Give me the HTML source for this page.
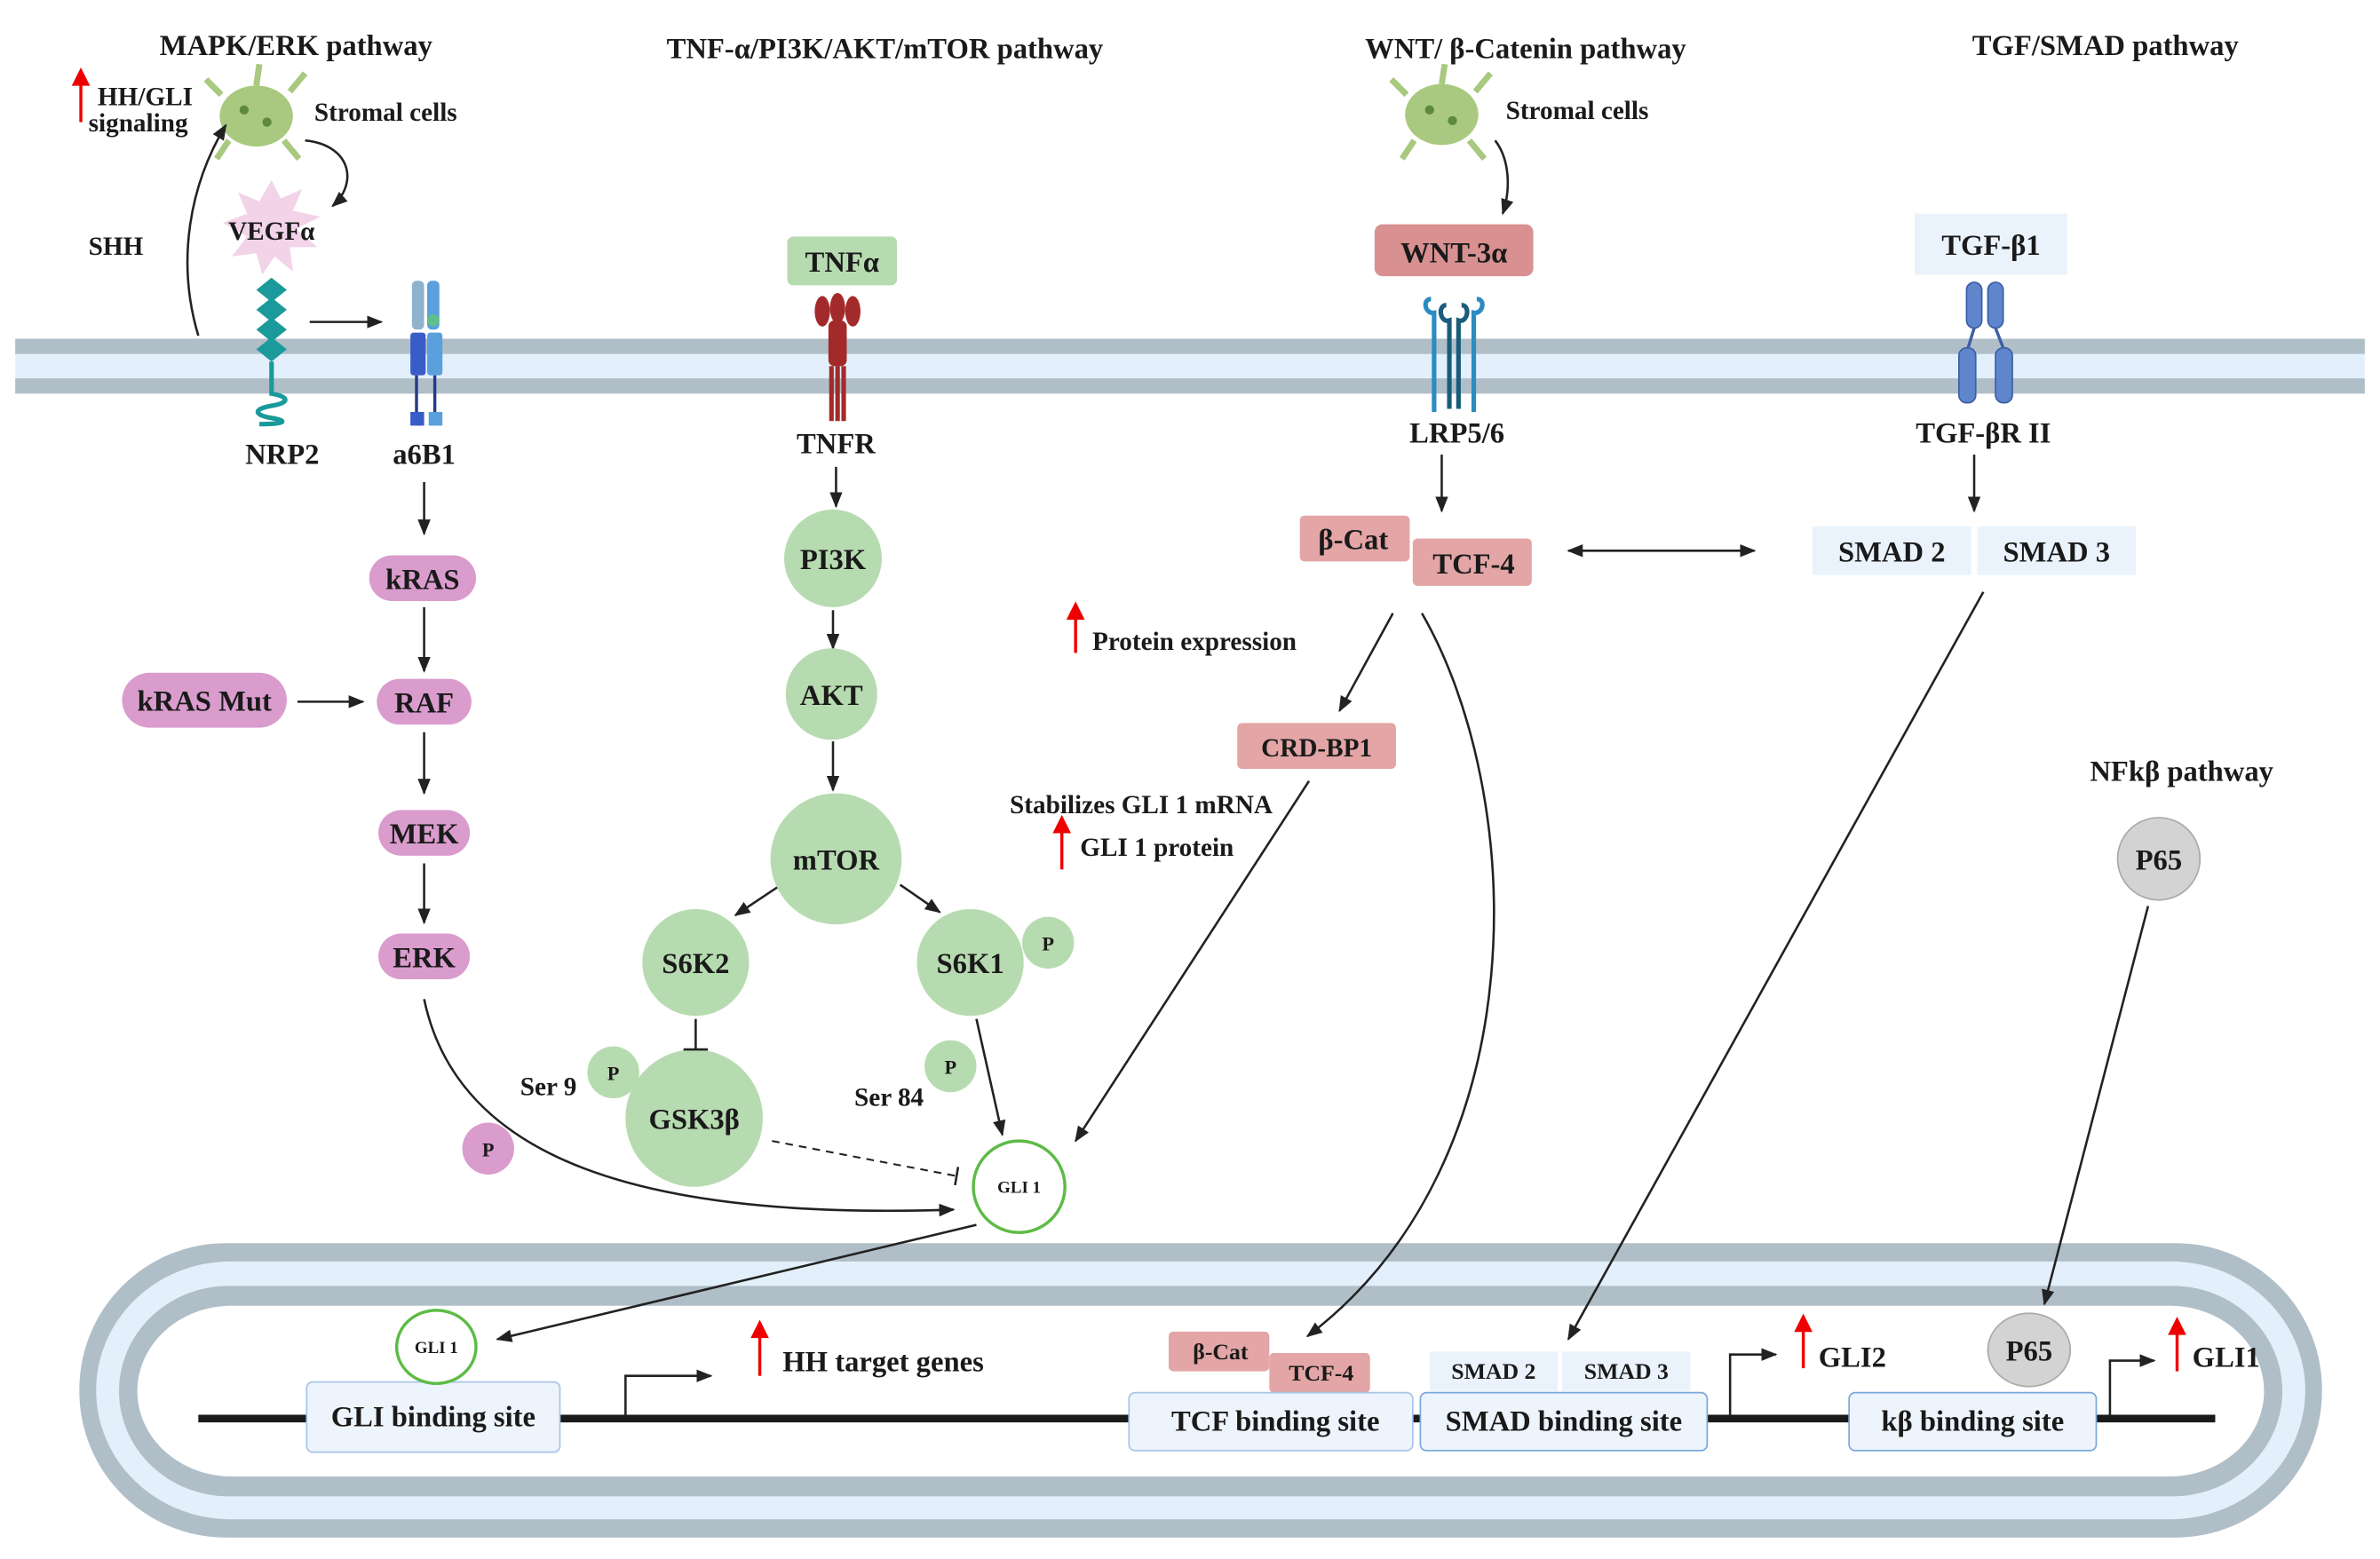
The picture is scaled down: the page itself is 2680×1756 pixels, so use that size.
<!DOCTYPE html>
<html><head><meta charset="utf-8"><style>
html,body{margin:0;padding:0;background:#fff;width:2680px;height:1756px;overflow:hidden}
svg{display:block}
text{font-family:"Liberation Serif",serif;font-weight:bold;fill:#1a1a1a}
</style></head><body>
<svg width="2680" height="1756" viewBox="0 0 1560 1022" xmlns="http://www.w3.org/2000/svg">
<defs>
<marker id="a" viewBox="0 0 10 10" refX="9" refY="5" markerWidth="7" markerHeight="7" orient="auto-start-reverse"><path d="M0,1 L10,5 L0,9 z" fill="#222"/></marker>
<marker id="r" viewBox="0 0 10 10" refX="5" refY="9" markerWidth="6" markerHeight="8" orient="0"><path d="M0,10 L5,0 L10,10z" fill="#e00"/></marker>
</defs>
<!-- membrane -->
<rect x="10" y="222" width="1540" height="36" fill="#e3f0fb"/>
<rect x="10" y="222" width="1540" height="10" fill="#b0bec8"/>
<rect x="10" y="248" width="1540" height="10" fill="#b0bec8"/>
<!-- nucleus -->
<rect x="52" y="815" width="1470" height="193" rx="96" fill="#b0bec8"/>
<rect x="63" y="827" width="1448" height="169" rx="88" fill="#e3f0fb"/>
<rect x="78" y="843" width="1418" height="138" rx="72" fill="#b0bec8"/>
<rect x="90" y="856" width="1394" height="112" rx="62" fill="#fff"/>
<line x1="130" y1="930" x2="1452" y2="930" stroke="#1a1a1a" stroke-width="5"/>

<!-- titles -->
<g font-size="19" text-anchor="middle">
<text x="194" y="36">MAPK/ERK pathway</text>
<text x="580" y="38">TNF-α/PI3K/AKT/mTOR pathway</text>
<text x="1000" y="38">WNT/ β-Catenin pathway</text>
<text x="1380" y="36">TGF/SMAD pathway</text>
<text x="1430" y="512">NFkβ pathway</text>
</g>

<!-- stromal cells -->
<g fill="#a8c97f">
<ellipse cx="168" cy="76" rx="24" ry="20"/><path d="M145,62 L135,52 M190,60 L200,48 M150,92 L142,104 M186,92 L196,104 M168,56 L170,42" stroke="#a8c97f" stroke-width="4"/>
<ellipse cx="945" cy="75" rx="24" ry="20"/><path d="M922,62 L912,52 M967,60 L977,48 M927,92 L919,104 M963,92 L973,104 M945,55 L947,42" stroke="#a8c97f" stroke-width="4"/>
</g>
<g fill="#5f8a3a"><circle cx="160" cy="72" r="3"/><circle cx="175" cy="80" r="3"/><circle cx="937" cy="72" r="3"/><circle cx="952" cy="79" r="3"/></g>
<g font-size="17"><text x="206" y="79">Stromal cells</text><text x="987" y="78">Stromal cells</text>
<text x="64" y="69">HH/GLI</text><text x="58" y="86">signaling</text><text x="58" y="167">SHH</text></g>
<line x1="53" y1="80" x2="53" y2="55" stroke="#e00" stroke-width="2" marker-end="url(#r)"/>

<!-- VEGF -->
<polygon points="178,118 184,130 198,124 192,138 210,142 194,150 208,162 190,162 192,178 180,168 172,180 168,166 152,168 162,155 146,146 162,140 156,126 170,132" fill="#f2d3e8"/>
<text x="178" y="157" font-size="17" text-anchor="middle">VEGFα</text>
<path d="M130,220 C115,170 125,120 148,82" fill="none" stroke="#222" stroke-width="1.5" marker-end="url(#a)"/>
<path d="M200,92 C230,95 235,120 218,135" fill="none" stroke="#222" stroke-width="1.5" marker-end="url(#a)"/>
<!-- NRP2 -->
<g fill="#1a9a9a"><polygon points="178,182 188,190 178,198 168,190"/><polygon points="178,195 188,203 178,211 168,203"/><polygon points="178,208 188,216 178,224 168,216"/><polygon points="178,221 188,229 178,237 168,229"/></g>
<path d="M178,237 V258 C190,260 190,264 178,266 C166,268 166,272 178,274 C190,276 186,278 170,278" fill="none" stroke="#1a9a9a" stroke-width="3"/>
<line x1="203" y1="211" x2="250" y2="211" stroke="#222" stroke-width="1.5" marker-end="url(#a)"/>
<!-- a6B1 -->
<rect x="270" y="184" width="8" height="32" rx="3" fill="#8fb2cf"/><rect x="280" y="184" width="8" height="32" rx="3" fill="#5aa0dc"/>
<circle cx="284" cy="210" r="4" fill="#5cc08a"/>
<rect x="269" y="218" width="10" height="28" rx="2" fill="#3a5cc8"/><rect x="280" y="218" width="10" height="28" rx="2" fill="#5aa0dc"/>
<path d="M273,246 V272 M285,246 V272" stroke="#243a8a" stroke-width="2"/>
<rect x="269" y="270" width="9" height="9" fill="#3a5cc8"/><rect x="281" y="270" width="9" height="9" fill="#5aa0dc"/>
<g font-size="19" text-anchor="middle"><text x="185" y="304">NRP2</text><text x="278" y="304">a6B1</text></g>

<!-- MAPK chain -->
<g stroke="#222" stroke-width="1.5" marker-end="url(#a)">
<line x1="278" y1="316" x2="278" y2="350"/><line x1="278" y1="398" x2="278" y2="440"/><line x1="278" y1="480" x2="278" y2="520"/><line x1="278" y1="566" x2="278" y2="605"/>
<line x1="195" y1="460" x2="238" y2="460"/>
</g>
<g fill="#d99ccd"><rect x="242" y="364" width="70" height="30" rx="15"/><rect x="247" y="445" width="62" height="30" rx="15"/><rect x="80" y="441" width="108" height="36" rx="18"/><rect x="248" y="531" width="60" height="30" rx="15"/><rect x="248" y="612" width="60" height="30" rx="15"/><circle cx="320" cy="753" r="17"/></g>
<g font-size="19" text-anchor="middle"><text x="277" y="386">kRAS</text><text x="278" y="467">RAF</text><text x="134" y="466">kRAS Mut</text><text x="278" y="553">MEK</text><text x="278" y="634">ERK</text></g>
<text x="320" y="758" font-size="13" text-anchor="middle">P</text>
<path d="M278,655 C300,760 420,800 625,793" fill="none" stroke="#222" stroke-width="1.5" marker-end="url(#a)"/>

<!-- TNF column -->
<rect x="516" y="155" width="72" height="32" rx="4" fill="#b7dbb0"/>
<text x="552" y="178" font-size="19" text-anchor="middle">TNFα</text>
<g fill="#a32a2a"><ellipse cx="539" cy="204" rx="5" ry="10"/><ellipse cx="549" cy="202" rx="5" ry="10"/><ellipse cx="559" cy="204" rx="5" ry="10"/>
<rect x="543" y="210" width="12" height="30" rx="4"/><path d="M545,240 V276 M549,240 V276 M553,240 V276" stroke="#a32a2a" stroke-width="3"/></g>
<text x="548" y="297" font-size="19" text-anchor="middle">TNFR</text>
<g stroke="#222" stroke-width="1.5" marker-end="url(#a)">
<line x1="548" y1="306" x2="548" y2="332"/><line x1="546" y1="400" x2="546" y2="425"/><line x1="546" y1="486" x2="546" y2="518"/>
<line x1="512" y1="580" x2="482" y2="600"/><line x1="590" y1="580" x2="616" y2="598"/>
<line x1="640" y1="668" x2="657" y2="744"/>
</g>
<g fill="#b7dbb0"><circle cx="546" cy="366" r="32"/><circle cx="545" cy="455" r="30"/><circle cx="548" cy="563" r="43"/><circle cx="456" cy="631" r="35"/><circle cx="636" cy="631" r="35"/><circle cx="455" cy="733" r="45"/>
<circle cx="687" cy="618" r="17"/><circle cx="623" cy="699" r="17"/><circle cx="402" cy="703" r="17"/></g>
<g font-size="19" text-anchor="middle"><text x="546" y="373">PI3K</text><text x="545" y="462">AKT</text><text x="548" y="570">mTOR</text><text x="456" y="638">S6K2</text><text x="636" y="638">S6K1</text><text x="455" y="740">GSK3β</text></g>
<g font-size="13" text-anchor="middle"><text x="687" y="623">P</text><text x="623" y="704">P</text><text x="402" y="708">P</text></g>
<g font-size="17"><text x="341" y="718">Ser 9</text><text x="560" y="725">Ser 84</text></g>
<path d="M456,668 V688 M448,688 H464" stroke="#222" stroke-width="1.5"/>
<path d="M506,748 L627,771" stroke="#222" stroke-width="1.2" stroke-dasharray="5,4"/>
<path d="M628,765 L626,777" stroke="#222" stroke-width="1.5"/>
<circle cx="668" cy="778" r="30" fill="#fff" stroke="#5dbb46" stroke-width="2"/>
<text x="668" y="782" font-size="11" text-anchor="middle">GLI 1</text>
<line x1="640" y1="803" x2="326" y2="878" stroke="#222" stroke-width="1.5" marker-end="url(#a)"/>

<!-- WNT -->
<path d="M980,92 C990,105 990,125 985,140" fill="none" stroke="#222" stroke-width="1.5" marker-end="url(#a)"/>
<rect x="901" y="147" width="104" height="34" rx="5" fill="#d89090"/>
<text x="953" y="172" font-size="19" text-anchor="middle">WNT-3α</text>
<g fill="none" stroke-width="3"><path d="M938,196 C932,196 934,206 940,205 V270 M968,196 C974,196 972,206 966,205 V270" stroke="#2a8cc0"/>
<path d="M948,200 C942,200 944,212 950,210 V268 M958,200 C964,200 962,212 956,210 V268" stroke="#1a5c7a"/></g>
<text x="955" y="290" font-size="19" text-anchor="middle">LRP5/6</text>
<line x1="945" y1="298" x2="945" y2="335" stroke="#222" stroke-width="1.5" marker-end="url(#a)"/>
<rect x="852" y="338" width="72" height="30" rx="3" fill="#e3a5a5"/><rect x="926" y="353" width="78" height="31" rx="3" fill="#e3a5a5"/>
<g font-size="19" text-anchor="middle"><text x="887" y="360">β-Cat</text><text x="966" y="376">TCF-4</text></g>
<line x1="1028" y1="361" x2="1150" y2="361" stroke="#222" stroke-width="1.5" marker-start="url(#a)" marker-end="url(#a)"/>
<line x1="705" y1="428" x2="705" y2="405" stroke="#e00" stroke-width="2" marker-end="url(#r)"/>
<text x="716" y="426" font-size="17">Protein expression</text>
<line x1="913" y1="402" x2="878" y2="466" stroke="#222" stroke-width="1.5" marker-end="url(#a)"/>
<rect x="811" y="474" width="104" height="30" rx="3" fill="#e3a5a5"/>
<text x="863" y="496" font-size="17" text-anchor="middle">CRD-BP1</text>
<text x="748" y="533" font-size="17" text-anchor="middle">Stabilizes GLI 1 mRNA</text>
<line x1="696" y1="570" x2="696" y2="545" stroke="#e00" stroke-width="2" marker-end="url(#r)"/>
<text x="708" y="561" font-size="17">GLI 1 protein</text>
<line x1="858" y1="512" x2="705" y2="748" stroke="#222" stroke-width="1.5" marker-end="url(#a)"/>
<path d="M932,402 C1000,520 1010,760 857,876" fill="none" stroke="#222" stroke-width="1.5" marker-end="url(#a)"/>

<!-- TGF -->
<rect x="1255" y="140" width="100" height="40" fill="#eaf3fc"/>
<text x="1305" y="167" font-size="19" text-anchor="middle">TGF-β1</text>
<g fill="#5f86cc" stroke="#3d5fa6"><rect x="1289" y="185" width="10" height="30" rx="5"/><rect x="1303" y="185" width="10" height="30" rx="5"/>
<rect x="1284" y="228" width="11" height="36" rx="5"/><rect x="1308" y="228" width="11" height="36" rx="5"/>
<path d="M1294,215 L1290,228 M1308,215 L1313,228" fill="none" stroke-width="2"/></g>
<text x="1300" y="290" font-size="19" text-anchor="middle">TGF-βR II</text>
<line x1="1294" y1="298" x2="1294" y2="335" stroke="#222" stroke-width="1.5" marker-end="url(#a)"/>
<rect x="1188" y="345" width="104" height="32" fill="#eaf3fc"/><rect x="1296" y="345" width="104" height="32" fill="#eaf3fc"/>
<g font-size="19" text-anchor="middle"><text x="1240" y="368">SMAD 2</text><text x="1348" y="368">SMAD 3</text></g>
<line x1="1300" y1="388" x2="1028" y2="878" stroke="#222" stroke-width="1.5" marker-end="url(#a)"/>

<!-- NFkB -->
<circle cx="1415" cy="563" r="27" fill="#d3d3d3" stroke="#aaa"/>
<text x="1415" y="570" font-size="19" text-anchor="middle">P65</text>
<line x1="1408" y1="594" x2="1340" y2="855" stroke="#222" stroke-width="1.5" marker-end="url(#a)"/>

<!-- nucleus contents -->
<rect x="201" y="906" width="166" height="46" rx="4" fill="#eef4fc" stroke="#a9c4e6"/>
<text x="284" y="935" font-size="19" text-anchor="middle">GLI binding site</text>
<ellipse cx="286" cy="883" rx="26" ry="24" fill="#fff" stroke="#5dbb46" stroke-width="2"/>
<text x="286" y="887" font-size="11" text-anchor="middle">GLI 1</text>
<path d="M410,928 V902 H466" fill="none" stroke="#222" stroke-width="1.5" marker-end="url(#a)"/>
<line x1="498" y1="902" x2="498" y2="876" stroke="#e00" stroke-width="2" marker-end="url(#r)"/>
<text x="513" y="899" font-size="19">HH target genes</text>
<rect x="766" y="873" width="66" height="26" rx="3" fill="#e3a5a5"/><rect x="832" y="887" width="66" height="26" rx="3" fill="#e3a5a5"/>
<g font-size="15" text-anchor="middle"><text x="800" y="891">β-Cat</text><text x="866" y="905">TCF-4</text></g>
<rect x="740" y="913" width="186" height="38" rx="4" fill="#eef4fc" stroke="#a9c4e6"/>
<text x="836" y="938" font-size="19" text-anchor="middle">TCF binding site</text>
<rect x="937" y="886" width="84" height="26" fill="#eaf3fc"/><rect x="1024" y="886" width="84" height="26" fill="#eaf3fc"/>
<g font-size="15" text-anchor="middle"><text x="979" y="904">SMAD 2</text><text x="1066" y="904">SMAD 3</text></g>
<rect x="931" y="913" width="188" height="38" rx="4" fill="#eef4fc" stroke="#7aa8dc"/>
<text x="1025" y="938" font-size="19" text-anchor="middle">SMAD binding site</text>
<path d="M1134,928 V888 H1164" fill="none" stroke="#222" stroke-width="1.5" marker-end="url(#a)"/>
<line x1="1182" y1="897" x2="1182" y2="872" stroke="#e00" stroke-width="2" marker-end="url(#r)"/>
<text x="1192" y="896" font-size="19">GLI2</text>
<ellipse cx="1330" cy="885" rx="27" ry="24" fill="#d3d3d3" stroke="#aaa"/>
<text x="1330" y="892" font-size="19" text-anchor="middle">P65</text>
<rect x="1212" y="913" width="162" height="38" rx="4" fill="#eef4fc" stroke="#7aa8dc"/>
<text x="1293" y="938" font-size="19" text-anchor="middle">kβ binding site</text>
<path d="M1383,928 V892 H1412" fill="none" stroke="#222" stroke-width="1.5" marker-end="url(#a)"/>
<line x1="1427" y1="899" x2="1427" y2="874" stroke="#e00" stroke-width="2" marker-end="url(#r)"/>
<text x="1437" y="896" font-size="19">GLI1</text>
</svg>
</body></html>
